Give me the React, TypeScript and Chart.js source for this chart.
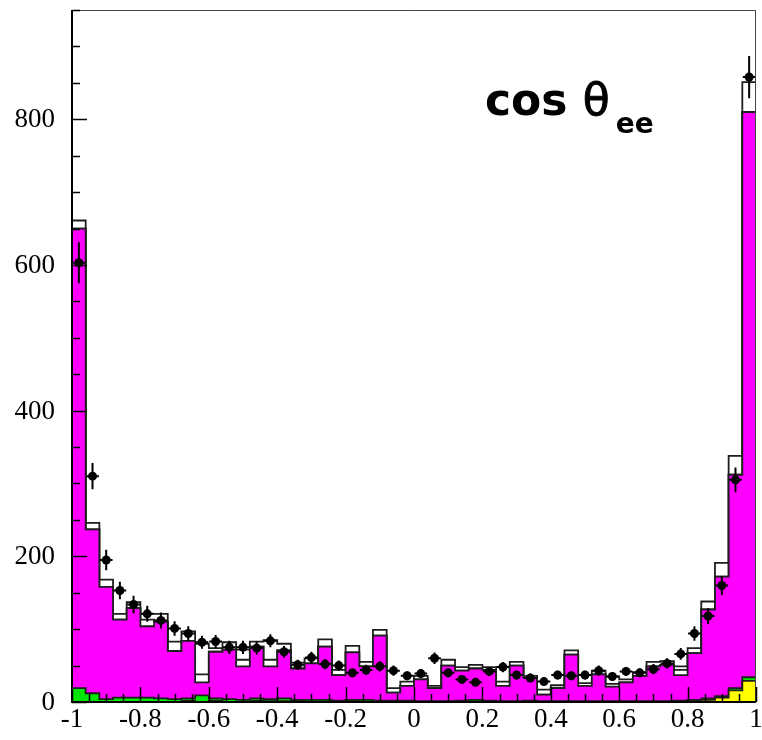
import { useEffect, useRef } from 'react';
import { Chart, registerables } from 'chart.js';

Chart.register(...registerables);

// Bin edges of the cos(theta_ee) histogram: 50 bins of width 0.04 on [-1, 1]
const binEdges = [
  -1.0, -0.96, -0.92, -0.88, -0.84, -0.8, -0.76, -0.72, -0.68, -0.64,
  -0.6, -0.56, -0.52, -0.48, -0.44, -0.4, -0.36, -0.32, -0.28, -0.24,
  -0.2, -0.16, -0.12, -0.08, -0.04, 0.0, 0.04, 0.08, 0.12, 0.16,
  0.2, 0.24, 0.28, 0.32, 0.36, 0.4, 0.44, 0.48, 0.52, 0.56,
  0.6, 0.64, 0.68, 0.72, 0.76, 0.8, 0.84, 0.88, 0.92, 0.96, 1.0,
];

// Stacked simulation components (bottom to top)
const yellowBg = [
  0, 0, 0, 0, 0, 0, 0, 0, 2, 0, 2, 0, 0, 2, 1, 1, 1, 0, 0, 0, 1, 0, 0, 0, 0,
  0, 0, 0, 0, 0, 0, 0, 0, 0, 0, 0, 0, 0, 0, 0, 0, 0, 0, 0, 1, 2, 3, 6, 16, 29,
];
const greenBg = [
  19, 12, 4, 6, 6, 6, 5, 4, 3, 9, 3, 4, 3, 3, 3, 4, 2, 3, 3, 2, 2, 3, 2, 2, 2,
  1, 1, 1, 2, 3, 2, 1, 1, 2, 1, 1, 1, 1, 1, 1, 1, 1, 1, 1, 1, 1, 2, 2, 3, 5,
];
const magentaMc = [
  631, 225, 154, 107, 123, 98, 105, 66, 79, 18, 64, 68, 46, 71, 45, 66, 43, 50, 73, 35, 65, 46, 89, 11, 20,
  30, 18, 49, 41, 43, 42, 21, 49, 31, 9, 18, 64, 21, 37, 20, 26, 35, 48, 50, 35, 64, 122, 164, 293, 776,
];
const innerWhite = [
  0, 0, 0, 0, 0, 9, 0, 0, 0, 11, 0, 0, 9, 0, 9, 0, 0, 0, 0, 0, 0, 0, 0, 0, 0,
  0, 0, 0, 0, 0, 0, 0, 0, 0, 0, 0, 0, 4, 0, 4, 0, 0, 0, 0, 7, 0, 0, 0, 0, 0,
];
const outerWhite = [
  11, 9, 10, 8, 8, 8, 11, 13, 13, 42, 5, 10, 14, 7, 27, 9, 8, 7, 10, 7, 9, 6, 8, 6, 6,
  5, 3, 8, 5, 5, 4, 6, 5, 3, 7, 4, 6, 11, 5, 10, 4, 5, 6, 5, 5, 7, 11, 19, 26, 41,
];

// Measured events and their uncertainties
const dataCounts = [
  603, 310, 195, 153, 134, 121, 112, 101, 94, 82, 83, 75, 75, 74, 84, 69, 51, 61, 52, 50, 40, 44, 49, 43, 36,
  39, 60, 40, 31, 27, 42, 48, 37, 33, 28, 37, 36, 37, 43, 35, 42, 40, 45, 53, 66, 94, 118, 160, 305, 858,
];
const dataErrors = [
  28, 18, 14, 12, 12, 11, 11, 10, 10, 9, 9, 9, 9, 9, 9, 8, 7, 8, 7, 7, 6, 7, 7, 7, 6,
  6, 8, 6, 6, 5, 6, 7, 6, 6, 5, 6, 6, 6, 7, 6, 6, 6, 7, 7, 8, 10, 11, 13, 17, 29,
];

const xTickLabels = ['-1', '-0.8', '-0.6', '-0.4', '-0.2', '0', '0.2', '0.4', '0.6', '0.8', '1'];
const yTickLabels = ['0', '200', '400', '600', '800'];

const Y_MAX = 950;
const OUTLINE = '#1e1e1e';

function stepPoints(levels: number[]) {
  const pts: { x: number; y: number }[] = [{ x: binEdges[0], y: 0 }];
  levels.forEach((v, i) => {
    pts.push({ x: binEdges[i], y: v });
    pts.push({ x: binEdges[i + 1], y: v });
  });
  pts.push({ x: binEdges[binEdges.length - 1], y: 0 });
  return pts;
}

const rootFrame = {
  id: 'rootFrame',
  afterDatasetsDraw(chart: any) {
    const { ctx, scales } = chart;
    const x = scales.x;
    const y = scales.y;
    ctx.save();
    ctx.strokeStyle = '#000';
    ctx.lineWidth = 2;
    dataCounts.forEach((d, i) => {
      const xl = x.getPixelForValue(binEdges[i]);
      const xr = x.getPixelForValue(binEdges[i + 1]);
      const xc = (xl + xr) / 2;
      const yc = y.getPixelForValue(d);
      const yt = y.getPixelForValue(d + dataErrors[i]);
      const yb = y.getPixelForValue(d - dataErrors[i]);
      ctx.beginPath();
      ctx.moveTo(xc, yt);
      ctx.lineTo(xc, yb);
      ctx.moveTo(xl + 0.5, yc);
      ctx.lineTo(xr - 0.5, yc);
      ctx.stroke();
    });
    ctx.restore();
  },
  afterDraw(chart: any) {
    const { ctx, chartArea: a, scales } = chart;
    const x = scales.x;
    const y = scales.y;
    ctx.save();

    // top and right frame
    ctx.strokeStyle = '#444';
    ctx.lineWidth = 1;
    ctx.beginPath();
    ctx.moveTo(a.left, a.top + 0.5);
    ctx.lineTo(a.right - 0.5, a.top + 0.5);
    ctx.lineTo(a.right - 0.5, a.bottom);
    ctx.stroke();

    // axes
    ctx.strokeStyle = '#000';
    ctx.lineWidth = 2;
    ctx.beginPath();
    ctx.moveTo(a.left, a.top);
    ctx.lineTo(a.left, a.bottom);
    ctx.lineTo(a.right, a.bottom);
    ctx.stroke();

    // y ticks every 50, labelled every 200
    ctx.lineWidth = 1.5;
    ctx.beginPath();
    for (let v = 0; v <= Y_MAX; v += 50) {
      const py = Math.round(y.getPixelForValue(v)) + 0.5;
      const len = v % 200 === 0 ? 15 : 8;
      ctx.moveTo(a.left, py);
      ctx.lineTo(a.left + len, py);
    }
    // x ticks every 0.05, labelled every 0.2
    for (let k = 0; k <= 40; k++) {
      const v = -1 + k * 0.05;
      const px = Math.round(x.getPixelForValue(v)) + 0.5;
      const len = k % 4 === 0 ? 15 : 8;
      ctx.moveTo(px, a.bottom);
      ctx.lineTo(px, a.bottom - len);
    }
    ctx.stroke();

    ctx.fillStyle = '#000';
    ctx.font = '27px "Liberation Serif", "Times New Roman", serif';
    ctx.textAlign = 'right';
    ctx.textBaseline = 'middle';
    yTickLabels.forEach((t) => {
      ctx.fillText(t, a.left - 17, y.getPixelForValue(Number(t)) + 1);
    });
    ctx.textAlign = 'center';
    xTickLabels.forEach((t) => {
      ctx.fillText(t, x.getPixelForValue(Number(t)), a.bottom + 18);
    });

    // title: bold "cos", regular-weight theta, bold subscript
    ctx.textAlign = 'left';
    ctx.textBaseline = 'alphabetic';
    ctx.font = 'bold 44px "DejaVu Sans", sans-serif';
    const word = 'cos ';
    ctx.fillText(word, 485, 115);
    let cx = 485 + ctx.measureText(word).width;
    ctx.font = 'normal 44px "DejaVu Sans", sans-serif';
    ctx.fillText('\u03b8', cx, 115);
    ctx.lineWidth = 1;
    ctx.strokeStyle = '#000';
    ctx.strokeText('\u03b8', cx, 115);
    cx += ctx.measureText('\u03b8').width;
    ctx.font = 'bold 28px "DejaVu Sans", sans-serif';
    ctx.fillText('ee', cx + 6, 133);

    ctx.restore();
  },
};

export default function App() {
  const canvasRef = useRef<HTMLCanvasElement | null>(null);

  useEffect(() => {
    const canvas = canvasRef.current;
    if (!canvas) return;

    const components = [yellowBg, greenBg, magentaMc, innerWhite, outerWhite];
    const fills = ['#ffff00', '#00e600', '#ff00ff', '#ffffff', '#ffffff'];
    const running = new Array(binEdges.length - 1).fill(0);
    // lower order is painted later, so the bottom component (order 1) ends up in front
    const layerSets = components.map((comp, k) => {
      const levels = comp.map((v, i) => (running[i] += v));
      return {
        type: 'line' as const,
        data: stepPoints(levels),
        borderColor: OUTLINE,
        borderWidth: 1.8,
        backgroundColor: fills[k],
        fill: 'origin',
        pointRadius: 0,
        tension: 0,
        order: k + 1,
      };
    });

    const points = dataCounts.map((d, i) => ({ x: (binEdges[i] + binEdges[i + 1]) / 2, y: d }));

    const chart = new Chart(canvas, {
      type: 'line',
      data: {
        datasets: [
          ...layerSets,
          {
            type: 'line',
            data: points,
            showLine: false,
            pointRadius: 4.5,
            pointBackgroundColor: '#000',
            pointBorderWidth: 0,
            order: 0,
          } as any,
        ] as any,
      },
      options: {
        animation: false,
        responsive: false,
        layout: { padding: { left: 72, top: 10, right: 6, bottom: 38 } },
        scales: {
          x: { type: 'linear', min: -1, max: 1, display: false },
          y: { type: 'linear', min: 0, max: Y_MAX, display: false },
        },
        plugins: {
          legend: { display: false },
          tooltip: { enabled: false },
        },
      },
      plugins: [rootFrame],
    });

    return () => chart.destroy();
  }, []);

  return (
    <div style={{ position: 'absolute', left: 0, top: 0, width: 762, height: 740, background: '#fff' }}>
      <canvas ref={canvasRef} width={762} height={740} />
    </div>
  );
}
